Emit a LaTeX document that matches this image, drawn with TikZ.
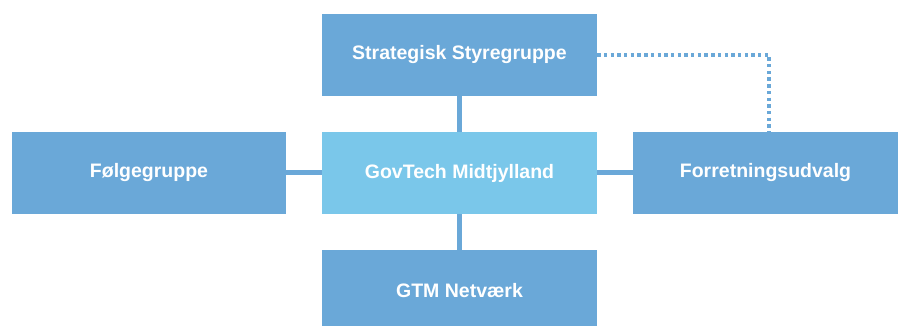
\documentclass[tikz,border=0pt]{standalone}
\usepackage{fontspec}
\setmainfont{Liberation Sans}
\definecolor{boxblue}{RGB}{106,168,216}
\definecolor{centerblue}{RGB}{122,199,234}
\begin{document}
\begin{tikzpicture}[x=1pt,y=-1pt,
  orgbox/.style={rectangle, fill=boxblue, draw=none, text=white, inner sep=0pt,
    minimum width=275pt, minimum height=82pt,
    font=\bfseries\fontsize{19.5}{23}\selectfont},
  link/.style={draw=boxblue, line width=5pt},
  dotlink/.style={draw=boxblue, line width=4pt, dash pattern=on 3.4pt off 3.3pt}]
\useasboundingbox (0,0) rectangle (898,326);
\node[orgbox] (top) at (459.5,55) {Strategisk Styregruppe};
\node[orgbox, minimum width=274pt] (left) at (149,173) {Følgegruppe};
\node[orgbox, fill=centerblue] (center) at (459.5,173) {GovTech Midtjylland};
\node[orgbox, minimum width=265pt] (right) at (765.5,173) {Forretningsudvalg};
\node[orgbox] (bottom) at (459.5,291) {GTM Netværk};
\coordinate (corner) at (769,55);
\draw[link] (top.south) -- (center.north);
\draw[link] (center.south) -- (bottom.north);
\draw[link] (left.east) -- (center.west);
\draw[link] (center.east) -- (right.west);
\draw[dotlink] (top.east) -- (corner) -- (corner |- right.north);
\end{tikzpicture}
\end{document}
